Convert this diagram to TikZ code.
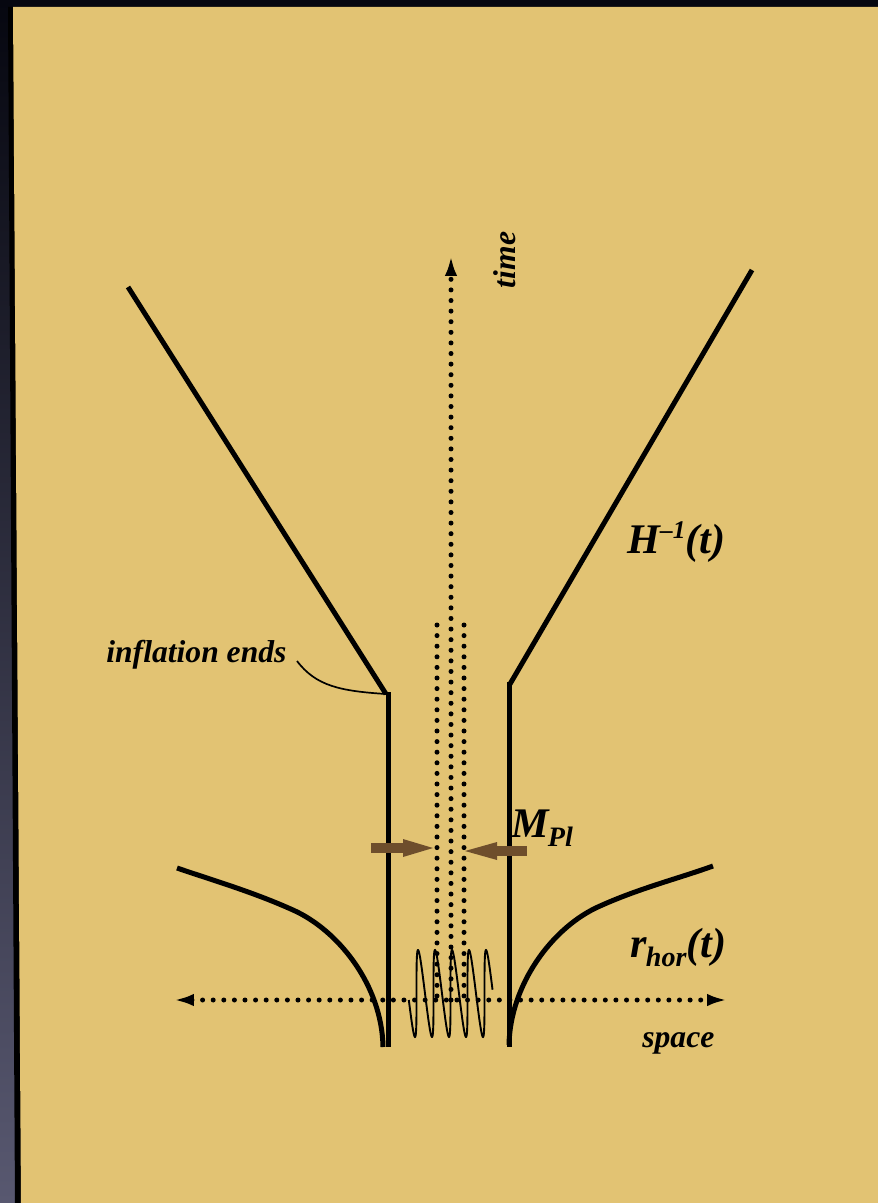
\documentclass[tikz,border=0pt]{standalone}
\usepackage{fontspec}
\setmainfont{Liberation Serif}
\usetikzlibrary{arrows.meta}
\definecolor{tanbg}{RGB}{226,195,115}
\definecolor{brownarrow}{RGB}{110,78,44}
\definecolor{darktop}{RGB}{6,7,16}
\definecolor{darkbot}{RGB}{88,88,112}
\begin{document}
\begin{tikzpicture}[x=0.02cm,y=-0.02cm,
  heavy/.style={line width=0.1cm},
  dots/.style={line width=0.1cm, line cap=round, dash pattern=on 0pt off 0.212cm},
  fine/.style={line width=0.034cm},
  axistip/.style={-{Latex[length=0.4cm,width=0.25cm]}},
  axisboth/.style={{Latex[length=0.4cm,width=0.25cm]}-{Latex[length=0.4cm,width=0.25cm]}},
  lab/.style={font=\fontsize{18}{20}\selectfont\bfseries\itshape, inner sep=0pt},
  big/.style={font=\fontsize{24}{27}\selectfont\bfseries\itshape, inner sep=0pt},
  pointer/.style={fill=brownarrow}
]
% background
\useasboundingbox (0,0) rectangle (878,1203);
\shade[top color=darktop, bottom color=darkbot] (0,0) rectangle (878,1203);
\fill[black] (8,7) -- (878,7) -- (878,1203) -- (15,1203) -- cycle;
\fill[tanbg] (13,7) -- (878,7) -- (878,1203) -- (21,1203) -- cycle;

% horizon walls
\coordinate (cornerL) at (386,694);
\coordinate (cornerR) at (510,684);
\draw[heavy] (128,287) -- (cornerL);
\draw[heavy] (388,692) -- (388,1047);
\draw[heavy] (752,270) -- (cornerR);
\draw[heavy] (509,682) -- (509,1047);

% r_hor curves
\draw[heavy] (383,1047) .. controls (382,985) and (338,930) .. (293,910)
  .. controls (253,892) and (215,881) .. (177,868);
\draw[heavy] (509,1045) .. controls (510,985) and (552,927) .. (600,906)
  .. controls (640,888) and (680,878) .. (713,866);

% axes
\coordinate (tbot) at (451,1000);
\coordinate (ttop) at (451,256);
\coordinate (sleft) at (174,1000);
\coordinate (sright) at (727,1000);
\draw[dots, axistip] (tbot) -- (ttop);
\draw[dots, axisboth] (sleft) -- (sright);
\draw[dots] (437,625) -- (437,1000);
\draw[dots] (464,625) -- (464,1000);

% oscillation
\draw[line width=0.038cm] plot[domain=-1.42:29.76, samples=400, smooth, variable=\t]
  ({412.25+2.7056*\t+2.75*cos(\t r)},{993.5+43.5*cos(\t r)});

% Planck arrows
\fill[pointer] (371,843) rectangle (404,853);
\fill[pointer] (403,839) -- (433,848) -- (403,857) -- cycle;
\fill[pointer] (496,846) rectangle (527,856);
\fill[pointer] (497,842) -- (465,851) -- (497,860) -- cycle;

% labels
\node[lab, anchor=base west] (ie) at (106,662) {inflation ends};
\draw[fine] (297,661) .. controls (316,686) and (340,691) .. (cornerL);
\node[lab, anchor=base, rotate=90] (time) at (515,260) {time};
\node[lab, anchor=base west] (space) at (642,1047) {space};
\node[big, anchor=base west] (H) at (627,553) {H\raisebox{8pt}{\fontsize{14.5}{15}\selectfont –1}(t)};
\node[big, anchor=base west] (M) at (511,837) {M\kern-0.5pt\raisebox{-5.5pt}{\fontsize{16}{16}\selectfont Pl}};
\node[big, anchor=base west] (r) at (630,957) {r\kern-0.5pt\raisebox{-5.5pt}{\fontsize{16}{16}\selectfont hor}(t)};
\end{tikzpicture}
\end{document}
